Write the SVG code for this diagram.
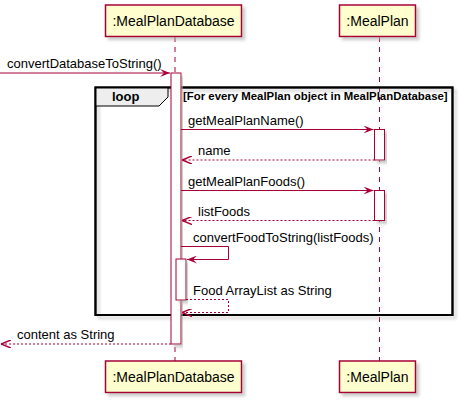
<svg xmlns="http://www.w3.org/2000/svg" width="465" height="406" viewBox="0 0 465 406">
<defs>
<filter id="sh" x="-10%" y="-10%" width="130%" height="140%">
<feGaussianBlur in="SourceAlpha" stdDeviation="1.5"/>
<feOffset dx="3" dy="3" result="b"/>
<feColorMatrix in="b" type="matrix" values="0 0 0 0 0.4  0 0 0 0 0.4  0 0 0 0 0.4  0 0 0 0.6 0"/>
<feMerge><feMergeNode/><feMergeNode in="SourceGraphic"/></feMerge>
</filter>
<marker id="ah" viewBox="0 0 10 8" refX="10" refY="4" markerWidth="10" markerHeight="8" markerUnits="userSpaceOnUse" orient="auto">
<polygon points="0,0 10,4 0,8 4,4" fill="#A80036"/>
</marker>
<marker id="oh" viewBox="0 0 10 8" refX="10" refY="4" markerWidth="10" markerHeight="8" markerUnits="userSpaceOnUse" orient="auto">
<polyline points="0,0 10,4 0,8" fill="none" stroke="#A80036" stroke-width="1.5"/>
</marker>
</defs>
<style>
.life{stroke:#A80036;stroke-width:1;stroke-dasharray:5,5;fill:none}
.pbox{fill:#FEFECE;stroke:#A80036;stroke-width:1.5;filter:url(#sh)}
.act{fill:#FFFFFF;stroke:#A80036;stroke-width:1;filter:url(#sh)}
.ptxt{font-family:"Liberation Sans",Arial,sans-serif;font-size:14px;fill:#000;text-anchor:middle}
.mtxt{font-family:"Liberation Sans",Arial,sans-serif;font-size:13px;fill:#000}
.msg{stroke:#A80036;stroke-width:1;fill:none;marker-end:url(#ah)}
.ret{stroke:#A80036;stroke-width:1;stroke-dasharray:2,2;fill:none;marker-end:url(#oh)}
.frame{fill:none;stroke:#000;stroke-width:2;filter:url(#sh)}
.ftab{fill:#EEEEEE;stroke:#000;stroke-width:1}
.ltxt{font-family:"Liberation Sans",Arial,sans-serif;font-weight:bold;font-size:13px;fill:#000}
.ctxt{font-family:"Liberation Sans",Arial,sans-serif;font-weight:bold;font-size:11.4px;fill:#000}
</style>

<g id="lifelines">
<line class="life" x1="175" y1="37" x2="175" y2="361"/>
<line class="life" x1="379.5" y1="37" x2="379.5" y2="361"/>
</g>

<g id="p-db-top">
<rect class="pbox" x="105.5" y="5" width="136" height="31.5"/>
<text class="ptxt" x="173.5" y="26">:MealPlanDatabase</text>
</g>
<g id="p-mp-top">
<rect class="pbox" x="339.5" y="5" width="76" height="31.5"/>
<text class="ptxt" x="377.5" y="26">:MealPlan</text>
</g>
<g id="p-db-bottom">
<rect class="pbox" x="105.5" y="361" width="136" height="31.5"/>
<text class="ptxt" x="173.5" y="382">:MealPlanDatabase</text>
</g>
<g id="p-mp-bottom">
<rect class="pbox" x="339.5" y="361" width="76" height="31.5"/>
<text class="ptxt" x="377.5" y="382">:MealPlan</text>
</g>

<g id="loop-frame">
<rect class="frame" x="95.5" y="87.5" width="357" height="227.5"/>
<path class="ftab" d="M95.5,87.5 H168 V97 L159,106 H95.5 Z"/>
<rect x="95.5" y="87.5" width="357" height="227.5" fill="none" stroke="#000" stroke-width="2"/>
<text class="ltxt" x="112" y="101">loop</text>
<text class="ctxt" x="183" y="100">[For every MealPlan object in MealPlanDatabase]</text>
</g>

<g id="activations">
<rect class="act" x="171" y="73" width="10" height="271"/>
<rect class="act" x="374.5" y="129.5" width="10" height="30.5"/>
<rect class="act" x="374.5" y="190.5" width="10" height="30"/>
<rect class="act" x="176" y="259" width="10" height="41"/>
</g>

<g id="connectors">
<line class="msg" x1="0" y1="73" x2="170" y2="73"/>
<text class="mtxt" x="7" y="68">convertDatabaseToString()</text>

<line class="msg" x1="181" y1="129.5" x2="373.5" y2="129.5"/>
<text class="mtxt" x="188" y="125">getMealPlanName()</text>

<line class="ret" x1="374.5" y1="160" x2="182" y2="160"/>
<text class="mtxt" x="198" y="155">name</text>

<line class="msg" x1="181" y1="190.5" x2="373.5" y2="190.5"/>
<text class="mtxt" x="188" y="186">getMealPlanFoods()</text>

<line class="ret" x1="374.5" y1="220.5" x2="182" y2="220.5"/>
<text class="mtxt" x="198" y="216">listFoods</text>

<polyline class="msg" points="181,246.5 228.5,246.5 228.5,259.5 187,259.5"/>
<text class="mtxt" x="193" y="242">convertFoodToString(listFoods)</text>

<polyline class="ret" points="186,299.5 228.5,299.5 228.5,312.5 182,312.5"/>
<text class="mtxt" x="193" y="295">Food ArrayList as String</text>

<line class="ret" x1="171" y1="344" x2="1" y2="344"/>
<text class="mtxt" x="17" y="339">content as String</text>
</g>
</svg>
